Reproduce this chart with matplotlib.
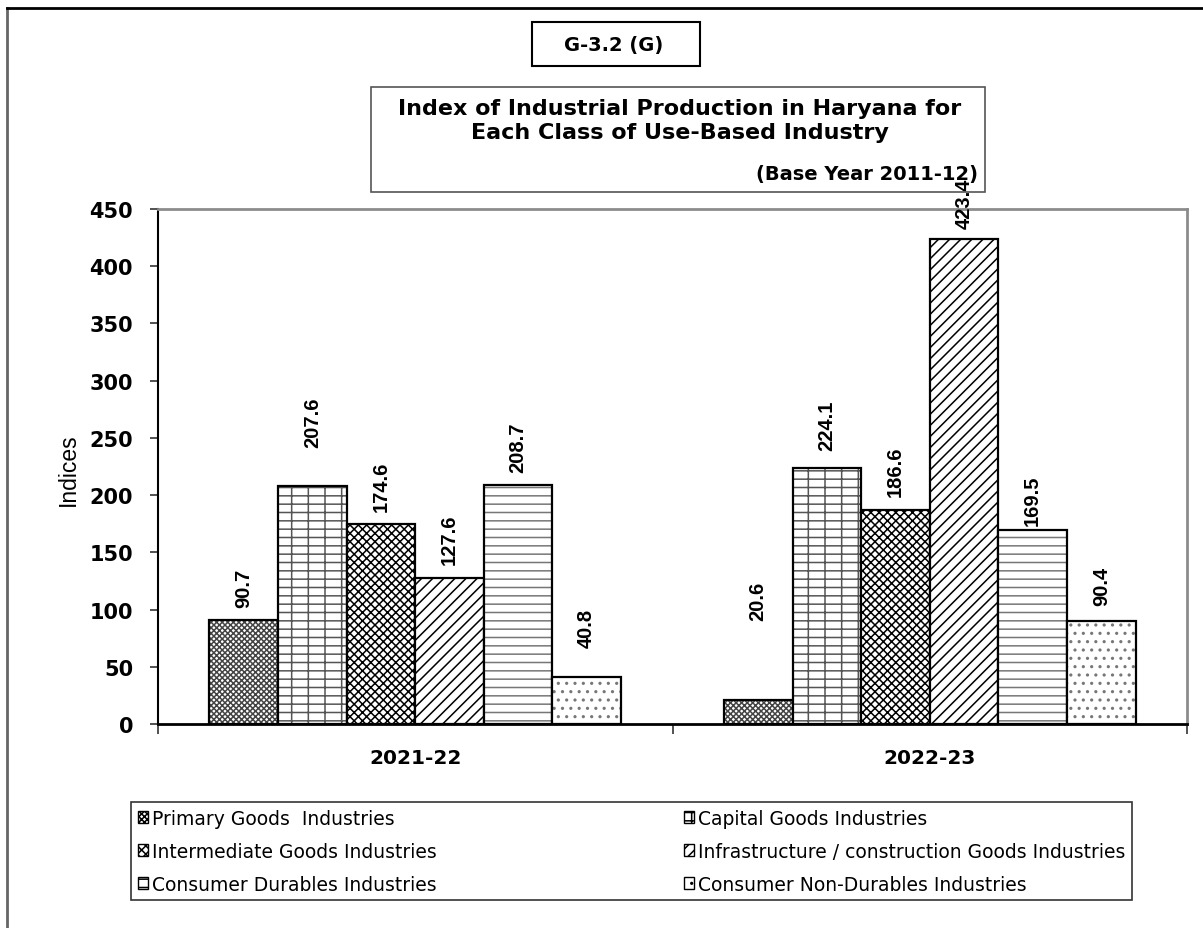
import matplotlib
matplotlib.use('Agg')
import numpy as np
import matplotlib.pyplot as plt
from matplotlib.patches import Patch, Rectangle
from matplotlib.lines import Line2D

W, H = 1203, 929

# data
years = ['2021-22', '2022-23']
industries = ['Primary Goods  Industries',
              'Capital Goods Industries',
              'Intermediate Goods Industries',
              'Infrastructure / construction Goods Industries',
              'Consumer Durables Industries',
              'Consumer Non-Durables Industries']
primary = [90.7, 20.6]
capital = [207.6, 224.1]
intermediate = [174.6, 186.6]
infrastructure = [127.6, 423.4]
durables = [208.7, 169.5]
non_durables = [40.8, 90.4]
yticks = list(range(0, 451, 50))

# styles
hatches = ['xxxxxx', '+-', 'xxxx', '///', '--', '..']
hatch_colors = ['#444444', '#555555', 'black', 'black', '#777777', '#777777']
# label gaps above the bars (pixels), placed by hand in the source sheet
label_gap = [[13, 80], [39, 18], [13, 14], [14, 11], [13, 5], [30, 16]]
arial = ['Liberation Sans', 'DejaVu Sans']

plt.rcParams['font.family'] = ['DejaVu Sans']
plt.rcParams['hatch.linewidth'] = 1.1

def fx(px):
    return px / W

def fy(py):
    return 1 - py / H

fig = plt.figure(figsize=(W / 100, H / 100), dpi=100)
ax = fig.add_axes([fx(158), fy(725), (1187 - 158) / W, (725 - 210) / H])

series = [primary, capital, intermediate, infrastructure, durables, non_durables]
x = np.arange(len(years)) + 0.5
bw = 0.8 / len(series)
for i, vals in enumerate(series):
    pos = x - 0.4 + bw * (i + 0.5)
    ax.bar(pos, vals, bw, color='white', edgecolor=hatch_colors[i],
           hatch=hatches[i], linewidth=0)
    ax.bar(pos, vals, bw, facecolor='none', edgecolor='black', linewidth=1.6)
    for p, v, g in zip(pos, vals, label_gap[i]):
        ax.annotate(f'{v:.1f}', (p, v), xytext=(0, g * 0.72),
                    textcoords='offset points', rotation=90,
                    ha='center', va='bottom', fontsize=14.5,
                    fontweight='bold', family=arial,
                    annotation_clip=False, zorder=5)

ax.set_xlim(0, 2)
ax.set_ylim(0, 450)
ax.set_yticks(yticks)
ax.tick_params(axis='y', length=6, width=1.2, pad=12, labelsize=15,
               color='#333333')
for lbl in ax.get_yticklabels():
    lbl.set_fontweight('bold')

ax.set_xticks([0, 1, 2])
ax.set_xticklabels([])
ax.tick_params(axis='x', which='major', length=7, width=1.2, color='#333333')
ax.set_xticks(x, minor=True)
ax.set_xticklabels(years, minor=True, fontsize=14.5, fontweight='bold')
ax.tick_params(axis='x', which='minor', length=0, pad=17)

ax.spines['left'].set_linewidth(1.5)
ax.spines['bottom'].set_linewidth(2)
for s in ['top', 'right']:
    ax.spines[s].set_color('#8c8c8c')
    ax.spines[s].set_linewidth(2)

fig.text(fx(68), fy(470), 'Indices', rotation=90, ha='center', va='center',
         fontsize=16.5, family=arial)

# title boxes
fig.add_artist(Rectangle((fx(532), fy(67)), (700 - 532) / W, (67 - 23) / H,
                         transform=fig.transFigure, fill=False,
                         edgecolor='black', lw=1.5))
fig.text(fx(614), fy(45), 'G-3.2 (G)', ha='center', va='center',
         fontsize=14, fontweight='bold')
fig.add_artist(Rectangle((fx(371), fy(193)), (985 - 371) / W, (193 - 88) / H,
                         transform=fig.transFigure, fill=False,
                         edgecolor='#555555', lw=1.2))
fig.text(fx(680), fy(109), 'Index of Industrial Production in Haryana for',
         ha='center', va='center', fontsize=16, fontweight='bold')
fig.text(fx(680), fy(133), 'Each Class of Use-Based Industry',
         ha='center', va='center', fontsize=16, fontweight='bold')
fig.text(fx(978), fy(175), '(Base Year 2011-12)',
         ha='right', va='center', fontsize=14, fontweight='bold')

# legend
handles = [Patch(facecolor='white', edgecolor='black', hatch=h, lw=1)
           for h in hatches]
order = [0, 2, 4, 1, 3, 5]
leg = fig.legend([handles[k] for k in order], [industries[k] for k in order],
                 ncol=2, loc='upper left', bbox_to_anchor=(fx(131), fy(803)),
                 fontsize=13.5, borderpad=0.35, labelspacing=0.75,
                 handlelength=0.55, handleheight=0.55, handletextpad=0.2,
                 columnspacing=13.2, borderaxespad=0, fancybox=False,
                 framealpha=1)
leg.get_frame().set_edgecolor('#333333')
leg.get_frame().set_linewidth(1.2)

# outer frame
fig.add_artist(Line2D([fx(7), fx(7)], [0, fy(9)], transform=fig.transFigure,
                      color='#666666', lw=2))
fig.add_artist(Line2D([fx(7), 1], [fy(9), fy(9)], transform=fig.transFigure,
                      color='black', lw=2))

fig.savefig('out.png', dpi=100)
